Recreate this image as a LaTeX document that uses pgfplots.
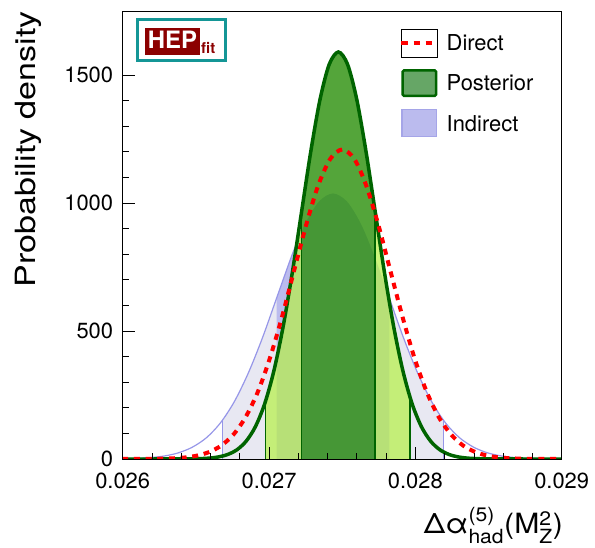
\documentclass[border=0pt]{standalone}
\usepackage{amsmath}
\usepackage{graphicx}
\usepackage{fontspec}
\setmainfont{TeX Gyre Heros}
\usepackage{pgfplots}
\usepackage{pgfplotstable}
\pgfplotsset{compat=1.18}
\usepgfplotslibrary{fillbetween}

\definecolor{postline}{RGB}{0,100,0}
\definecolor{post68}{RGB}{41,142,9}
\definecolor{post95}{RGB}{182,241,69}
\definecolor{postleg}{RGB}{102,166,102}
\definecolor{ind95}{RGB}{232,232,242}
\definecolor{ind68}{RGB}{187,187,238}
\definecolor{indline}{RGB}{150,150,232}
\definecolor{indleg}{RGB}{165,165,232}
\definecolor{hepred}{RGB}{140,0,0}
\definecolor{hepteal}{RGB}{20,150,150}

\pgfplotstableread{
x y
0.026000 0
0.026214 0
0.026340 0.06
0.026466 0.5
0.026529 1.4
0.026592 3.5
0.026655 8.1
0.026718 17.7
0.026781 36.2
0.026844 69.9
0.026907 126.5
0.026970 215.2
0.027033 343.9
0.027096 516.2
0.027159 727.9
0.027222 964.4
0.027285 1200.2
0.027348 1403.2
0.027411 1541.1
0.027474 1590.0
0.027537 1541.1
0.027600 1403.2
0.027663 1200.2
0.027726 964.4
0.027789 727.9
0.027852 516.2
0.027915 343.9
0.027978 215.2
0.028041 126.5
0.028104 69.9
0.028167 36.2
0.028230 17.7
0.028293 8.1
0.028356 3.5
0.028419 1.4
0.028482 0.5
0.028608 0.06
0.028734 0
0.029000 0
}\posttab

\pgfplotstableread{
x y
0.026000 1.0
0.026089 2.3
0.026186 5.3
0.026282 11.5
0.026378 23.6
0.026474 45.6
0.026571 82.5
0.026667 140.3
0.026763 224.3
0.026859 336.7
0.026956 474.8
0.027052 629.0
0.027148 782.8
0.027244 915.2
0.027341 1005.1
0.027437 1037.0
0.027533 1005.1
0.027630 915.2
0.027726 782.8
0.027822 629.0
0.027918 474.8
0.028015 336.7
0.028111 224.3
0.028207 140.3
0.028303 82.5
0.028400 45.6
0.028496 23.6
0.028592 11.5
0.028688 5.3
0.028785 2.3
0.028881 0.9
0.028977 0.35
0.029000 0.3
}\indtab

% visible parts of the indirect curve (outside the posterior area)
\pgfplotstableread{
x y
0.026000 1.0
0.026089 2.3
0.026186 5.3
0.026282 11.5
0.026378 23.6
0.026474 45.6
0.026571 82.5
0.026667 140.3
0.026763 224.3
0.026859 336.7
0.026956 474.8
0.027052 629.0
0.027148 782.8
0.027192 847.0
}\indtabL

\pgfplotstableread{
x y
0.027813 643.7
0.027822 629.0
0.027918 474.8
0.028015 336.7
0.028111 224.3
0.028207 140.3
0.028303 82.5
0.028400 45.6
0.028496 23.6
0.028592 11.5
0.028688 5.3
0.028785 2.3
0.028881 0.9
0.028977 0.35
0.029000 0.3
}\indtabR

\pgfplotstableread{
x y
0.026000 0
0.026015 0.05
0.026180 0.4
0.026263 1.1
0.026345 2.6
0.026428 6.1
0.026510 13.4
0.026593 27.6
0.026675 53.1
0.026758 96.2
0.026840 163.6
0.026923 261.5
0.027005 392.5
0.027088 553.5
0.027170 733.3
0.027253 912.6
0.027335 1067.0
0.027418 1171.8
0.027500 1209.0
0.027583 1171.8
0.027665 1067.0
0.027748 912.6
0.027830 733.3
0.027913 553.5
0.027995 392.5
0.028078 261.5
0.028160 163.6
0.028243 96.2
0.028325 53.1
0.028408 27.6
0.028490 13.4
0.028573 6.1
0.028655 2.6
0.028738 1.1
0.028820 0.4
0.028985 0.05
0.029000 0
}\dirtab

\begin{document}
\begin{tikzpicture}
\begin{axis}[
  at={(0,0)}, anchor=south west,
  scale only axis, width=439bp, height=448bp,
  xmin=0.026, xmax=0.029, ymin=0, ymax=1750,
  scaled x ticks=false, scaled y ticks=false,
  xtick={0.026,0.027,0.028,0.029}, xticklabels={0.026,0.027,0.028,0.029},
  minor x tick num=4,
  ytick={0,500,1000,1500}, yticklabels={0,500,1000,1500},
  minor y tick num=4,
  tick align=inside, tick pos=left,
  major tick length=12bp, minor tick length=6bp,
  tick style={black, line width=0.8bp},
  axis line style={black, line width=0.8bp},
  axis on top,
  /pgf/number format/assume math mode=true,
  ticklabel style={font=\fontsize{22}{26}\selectfont},
  xticklabel style={inner sep=0pt, yshift=-13.7bp},
  yticklabel style={inner sep=0pt, xshift=-9.4bp},
  xlabel={\scalebox{1.08}[1]{Δα$^{\text{(5)}}_{\text{had}}$(M$^{\text{2}}_{\text{Z}}$)}},
  ylabel={\scalebox{1.22}[1]{Probability density}},
  xlabel style={at={(axis description cs:1.003,-0.1674)}, anchor=base east, inner sep=0pt, font=\fontsize{28}{32}\selectfont},
  ylabel style={at={(axis description cs:-0.1975,1)}, anchor=base east, inner sep=0pt, font=\fontsize{28}{32}\selectfont},
  legend style={at={(axis description cs:0.6301,0.9605)}, anchor=north west, draw=none, fill=none,
    inner sep=0pt, outer sep=0pt, row sep=12bp, column sep=7.4bp,
    font=\fontsize{22}{26}\selectfont,
    nodes={inner sep=0pt, text height=15.7bp, text depth=0pt}},
  legend cell align=left,
]
% named paths
\addplot[draw=none, name path=base, forget plot] coordinates {(0.026,0) (0.029,0)};
\addplot[draw=none, name path=post, smooth, forget plot] table[x=x,y=y]{\posttab};
\addplot[draw=none, name path=ind, smooth, forget plot] table[x=x,y=y]{\indtab};

% indirect fills and boundary lines
\addplot[fill=ind95, draw=none, forget plot] fill between[of=ind and base, soft clip={domain=0.026683:0.028191}];
\addplot[fill=ind68, draw=none, forget plot] fill between[of=ind and base, soft clip={domain=0.027052:0.027822}];
\addplot[indline, line width=1bp, forget plot] coordinates {(0.026683,0) (0.026683,150)};
\addplot[indline, line width=1bp, forget plot] coordinates {(0.028191,0) (0.028191,150)};

% posterior fills
\addplot[fill=post95, fill opacity=0.7, draw=none, forget plot] fill between[of=post and base, soft clip={domain=0.026977:0.027222}];
\addplot[fill=post95, fill opacity=0.7, draw=none, forget plot] fill between[of=post and base, soft clip={domain=0.027726:0.027964}];
\addplot[fill=post68, fill opacity=0.8, draw=none, forget plot] fill between[of=post and base, soft clip={domain=0.027222:0.027726}];

% posterior interval boundary lines
\addplot[postline, line width=1.6bp, forget plot] coordinates {(0.026977,0) (0.026977,226)};
\addplot[postline, line width=1.6bp, forget plot] coordinates {(0.027222,0) (0.027222,962)};
\addplot[postline, line width=1.6bp, forget plot] coordinates {(0.027726,0) (0.027726,962)};
\addplot[postline, line width=1.6bp, forget plot] coordinates {(0.027964,0) (0.027964,238)};

% curves
\addplot[indline, line width=1.2bp, smooth, forget plot] table[x=x,y=y]{\indtabL};
\addplot[indline, line width=1.2bp, smooth, forget plot] table[x=x,y=y]{\indtabR};
\addplot[postline, line width=3.5bp, smooth, forget plot] table[x=x,y=y]{\posttab};
\addplot[red, line width=4bp, dash pattern=on 6bp off 5.7bp, smooth, forget plot] table[x=x,y=y]{\dirtab};

% legend
\addlegendimage{legend image code/.code={\path (0bp,-14bp) rectangle (36bp,14bp); \draw[red, line width=4bp, dash pattern=on 6.5bp off 5.7bp] (0bp,0bp) -- (36bp,0bp);}}
\addlegendentry{Direct}
\addlegendimage{legend image code/.code={\draw[fill=postleg, draw=postline, line width=2.5bp, rounded corners=1.5bp] (1.2bp,-12.8bp) rectangle (34.8bp,12.8bp);}}
\addlegendentry{Posterior}
\addlegendimage{legend image code/.code={\draw[fill=ind68, draw=indleg, line width=1.2bp] (0.6bp,-13.4bp) rectangle (35.4bp,13.4bp);}}
\addlegendentry{Indirect}

% HEPfit logo
\draw[hepteal, line width=3bp, fill=white] (axis description cs:0.0333,0.8884) rectangle (axis description cs:0.2353,0.9799);
\fill[hepred] (axis description cs:0.0508,0.9011) rectangle (axis description cs:0.1761,0.9621);
\node[anchor=base, text=white, font=\fontsize{24}{28}\selectfont\bfseries, inner sep=0pt] at (axis description cs:0.1134,0.9158) {HEP};
\node[anchor=base west, text=hepred, font=\fontsize{15}{18}\selectfont\bfseries, inner sep=0pt] at (axis description cs:0.1784,0.9051) {fit};
\end{axis}
\pgfresetboundingbox
\useasboundingbox (-122.7bp,-89bp) rectangle (472.3bp,459bp);
\end{tikzpicture}
\end{document}
